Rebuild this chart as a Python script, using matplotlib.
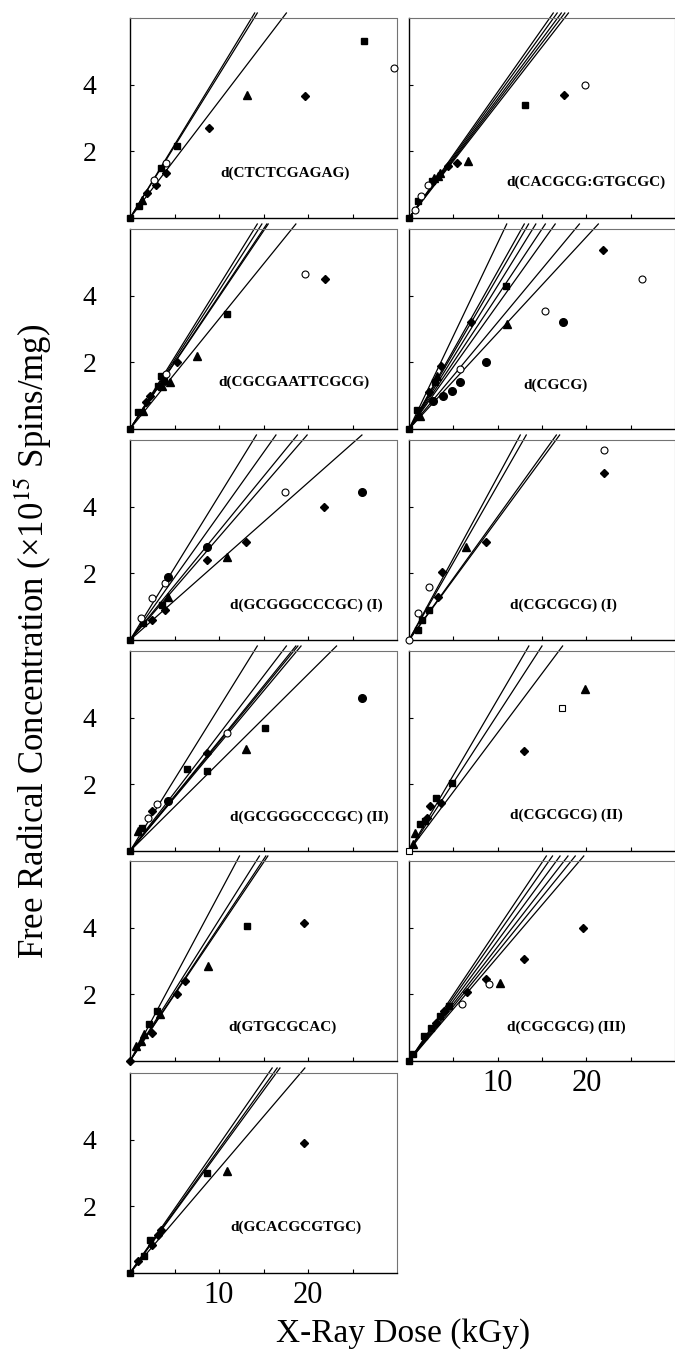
import numpy as np
import matplotlib
matplotlib.use("Agg")
from matplotlib import pyplot as plt

plt.rcParams['font.family'] = ['Liberation Serif', 'DejaVu Serif']
plt.rcParams['mathtext.fontset'] = 'stix'

# ---- data: fitted initial slopes and measured points per oligomer ----
# each series: (dose in kGy, radicals x1e15 spins/mg)
ctct_name = 'd(CTCTCGAGAG)'
ctct_slopes = [0.439, 0.430, 0.35]
ctct_pts = {
    'square': ([0, 1.0, 3.5, 5.3, 26.3], [0, 0.35, 1.5, 2.15, 5.3]),
    'triangle': ([1.4, 13.2], [0.55, 3.7]),
    'diamond': ([1.9, 2.9, 4.0, 8.9, 19.7], [0.75, 1.0, 1.35, 2.7, 3.65]),
    'open circle': ([2.7, 4.0, 29.7], [1.15, 1.65, 4.5]),
}

cacg_name = 'd(CACGCG:GTGCGC)'
cacg_slopes = [0.378, 0.368, 0.358, 0.350, 0.342]
cacg_pts = {
    'square': ([0, 1.0, 2.6, 13.1], [0, 0.5, 1.1, 3.4]),
    'triangle': ([2.8, 3.3, 3.5, 6.6], [1.2, 1.25, 1.35, 1.7]),
    'diamond': ([4.4, 5.4, 17.5], [1.55, 1.65, 3.7]),
    'open circle': ([0.7, 1.35, 2.1, 19.8], [0.25, 0.65, 1.0, 4.0]),
}

gaat_name = 'd(CGCGAATTCGCG)'
gaat_slopes = [0.43, 0.415, 0.40, 0.396, 0.33]
gaat_pts = {
    'square': ([0, 0.9, 3.2, 3.5, 3.8, 10.9], [0, 0.5, 1.3, 1.6, 1.45, 3.45]),
    'triangle': ([1.5, 3.6, 4.5, 7.5], [0.55, 1.3, 1.4, 2.2]),
    'diamond': ([1.8, 2.3, 5.3, 21.9], [0.8, 1.0, 2.0, 4.5]),
    'open circle': ([4.1, 19.7], [1.65, 4.65]),
}

cgcg_name = 'd(CGCG)'
cgcg_slopes = [0.558, 0.473, 0.456, 0.43, 0.40, 0.373, 0.32, 0.288]
cgcg_pts = {
    'square': ([0, 0.9, 2.9, 10.9], [0, 0.57, 1.4, 4.3]),
    'triangle': ([1.2, 3.2, 11.0], [0.4, 1.6, 3.15]),
    'diamond': ([2.2, 3.6, 7.0, 21.9], [1.1, 1.9, 3.2, 5.37]),
    'open circle': ([5.7, 15.3, 26.3], [1.8, 3.54, 4.5]),
    'circle': ([2.7, 3.8, 4.8, 5.7, 8.7, 17.4], [0.85, 1.0, 1.15, 1.4, 2.0, 3.2]),
}

gcg1_name = 'd(GCGGGCCCGC) (I)'
gcg1_slopes = [0.433, 0.375, 0.327, 0.309, 0.236]
gcg1_pts = {
    'square': ([0, 1.5, 3.6], [0, 0.5, 1.05]),
    'triangle': ([4.3, 10.9], [1.3, 2.5]),
    'diamond': ([2.5, 3.9, 8.7, 13.0, 21.8], [0.6, 0.9, 2.4, 2.95, 4.0]),
    'open circle': ([1.2, 2.5, 3.9, 17.4], [0.65, 1.25, 1.7, 4.45]),
    'circle': ([4.3, 8.7, 26.1], [1.9, 2.8, 4.45]),
}

cg1_name = 'd(CGCGCG) (I)'
cg1_slopes = [0.49, 0.465, 0.37, 0.362]
cg1_pts = {
    'square': ([1.0, 1.5, 2.2], [0.3, 0.6, 0.9]),
    'triangle': ([6.4], [2.8]),
    'diamond': ([3.3, 3.7, 8.65, 22.0], [1.3, 2.05, 2.95, 5.0]),
    'open circle': ([0, 1.0, 2.25, 22.0], [0, 0.8, 1.6, 5.7]),
}

gcg2_name = 'd(GCGGGCCCGC) (II)'
gcg2_slopes = [0.43, 0.35, 0.33, 0.326, 0.32, 0.265]
gcg2_pts = {
    'square': ([0, 1.3, 6.4, 8.7, 15.2], [0, 0.7, 2.45, 2.4, 3.7]),
    'triangle': ([0.9, 13.0], [0.6, 3.05]),
    'diamond': ([2.5, 8.7], [1.2, 2.95]),
    'open circle': ([2.0, 3.0, 10.9], [1.0, 1.4, 3.55]),
    'circle': ([4.3, 26.1], [1.5, 4.6]),
}

cg2_name = 'd(CGCGCG) (II)'
cg2_slopes = [0.455, 0.41, 0.355]
cg2_pts = {
    'square': ([1.2, 1.8, 3.1, 4.9], [0.8, 0.9, 1.6, 2.05]),
    'triangle': ([0.5, 0.7, 19.8], [0.2, 0.55, 4.85]),
    'diamond': ([2.0, 2.4, 3.6, 13.0], [1.0, 1.35, 1.45, 3.0]),
    'open square': ([0, 17.3], [0, 4.3]),
}

gtgc_name = 'd(GTGCGCAC)'
gtgc_slopes = [0.5, 0.423, 0.403, 0.397]
gtgc_pts = {
    'square': ([2.1, 3.0, 13.1], [1.1, 1.5, 4.05]),
    'triangle': ([0.7, 1.2, 1.6, 3.4, 8.8], [0.45, 0.6, 0.8, 1.4, 2.85]),
    'diamond': ([0, 2.5, 5.3, 6.2, 19.6], [0, 0.85, 2.0, 2.4, 4.15]),
}

cg3_name = 'd(CGCGCG) (III)'
cg3_slopes = [0.397, 0.38, 0.361, 0.343, 0.328, 0.312]
cg3_pts = {
    'square': ([0, 0.5, 1.7, 2.5, 3.5, 4.5], [0, 0.2, 0.75, 1.0, 1.35, 1.65]),
    'triangle': ([10.3], [2.35]),
    'diamond': ([3.0, 4.0, 6.5, 8.65, 13.0, 19.6], [1.15, 1.5, 2.07, 2.45, 3.05, 4.0]),
    'open circle': ([6.0, 9.0], [1.7, 2.3]),
}

gcac_name = 'd(GCACGCGTGC)'
gcac_slopes = [0.385, 0.372, 0.365, 0.313]
gcac_pts = {
    'square': ([0, 1.6, 2.2, 8.7], [0, 0.5, 1.0, 3.0]),
    'triangle': ([10.9], [3.05]),
    'diamond': ([0.9, 2.5, 3.2, 3.5, 19.6], [0.35, 0.85, 1.15, 1.3, 3.9]),
}

# ---- styles ----
MARKERS = {
    'square': dict(marker='s', ms=5, mfc='black', mec='black'),
    'open square': dict(marker='s', ms=4.5, mfc='white', mec='black', mew=0.8),
    'triangle': dict(marker='^', ms=5.5, mfc='black', mec='black'),
    'diamond': dict(marker='D', ms=3.8, mfc='black', mec='black'),
    'open circle': dict(marker='o', ms=5, mfc='white', mec='black', mew=0.8),
    'circle': dict(marker='o', ms=5.5, mfc='black', mec='black'),
}

W, H = 675, 1355
fig = plt.figure(figsize=(W / 100, H / 100), dpi=100)

# (panel data, column, row, label x, label y in axes fraction)
panels = [
    (ctct_name, ctct_slopes, ctct_pts, 0, 0, 0.58, 0.225),
    (cacg_name, cacg_slopes, cacg_pts, 1, 0, 0.665, 0.18),
    (gaat_name, gaat_slopes, gaat_pts, 0, 1, 0.615, 0.235),
    (cgcg_name, cgcg_slopes, cgcg_pts, 1, 1, 0.55, 0.22),
    (gcg1_name, gcg1_slopes, gcg1_pts, 0, 2, 0.66, 0.175),
    (cg1_name, cg1_slopes, cg1_pts, 1, 2, 0.58, 0.175),
    (gcg2_name, gcg2_slopes, gcg2_pts, 0, 3, 0.67, 0.17),
    (cg2_name, cg2_slopes, cg2_pts, 1, 3, 0.59, 0.18),
    (gtgc_name, gtgc_slopes, gtgc_pts, 0, 4, 0.57, 0.17),
    (cg3_name, cg3_slopes, cg3_pts, 1, 4, 0.59, 0.17),
    (gcac_name, gcac_slopes, gcac_pts, 0, 5, 0.62, 0.23),
]

col_left = [130, 409]
col_width = [267, 266]
row_bottom = [218, 429, 640, 851, 1061, 1273]
row_h = 200
line_top = 6.15  # fit lines run a little past the top border

for name, slopes, pts, col, row, lx, ly in panels:
    ax = fig.add_axes([col_left[col] / W, 1 - row_bottom[row] / H,
                       col_width[col] / W, row_h / H])
    for s in slopes:
        xend = min(30, line_top / s)
        ax.plot([0, xend], [0, s * xend], color='black', lw=0.9, clip_on=False)
    for kind, (xs, ys) in pts.items():
        ax.plot(xs, ys, ls='none', clip_on=False, zorder=3, **MARKERS[kind])
    ax.text(lx, ly, name, transform=ax.transAxes, ha='center', va='center',
            fontsize=11, fontweight='bold')
    ax.set_xlim(0, 30)
    ax.set_ylim(0, 6)
    for side in ['top', 'right']:
        ax.spines[side].set_linestyle((0, (1, 1)))
        ax.spines[side].set_color('0.45')
        ax.spines[side].set_linewidth(0.8)
    for side in ['left', 'bottom']:
        ax.spines[side].set_linewidth(1.0)
    ax.set_xticks([5, 10, 15, 20, 25])
    ax.set_yticks([2, 4])
    ax.tick_params(direction='in', length=3, width=0.8)
    bottom_panel = (col == 0 and row == 5) or (col == 1 and row == 4)
    if bottom_panel:
        ax.set_xticklabels(['', '10', '', '20', ''])
        ax.tick_params(axis='x', labelsize=22, pad=6)
    else:
        ax.set_xticklabels([])
    if col == 0:
        ax.tick_params(axis='y', labelsize=20, pad=24)
    else:
        ax.set_yticklabels([])

fig.text(33 / W, 1 - 641 / H, 'Free Radical Concentration (\u00d710$^{15}$ Spins/mg)',
         rotation=90, ha='center', va='center', fontsize=25)
fig.text(403 / W, 1 - 1334 / H, 'X-Ray Dose (kGy)', ha='center', va='center',
         fontsize=24)

fig.savefig('out.png', dpi=100)
